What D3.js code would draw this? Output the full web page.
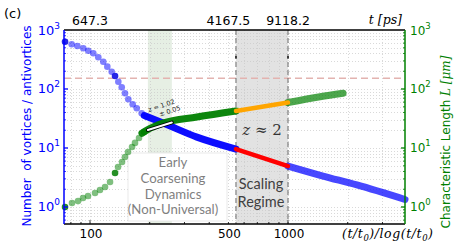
<!DOCTYPE html>
<html><head><meta charset="utf-8">
<script src="https://cdn.jsdelivr.net/npm/d3@7"></script>
<style>body{margin:0;background:#fff}svg{display:block}</style>
</head><body><svg id="c" width="457" height="248"></svg>
<script>
// ---- data ----
const blueDotX = [74.8, 80.8, 86.3, 92.5, 98.0, 103.9, 110.1, 116.7, 122.3, 128.7, 133.8, 139.0, 144.6, 150.2, 156.1, 164.3, 172.2, 182.4, 193.4];
const blueDotY = [633, 572, 536, 490, 446, 403, 345, 290, 239, 196, 166, 133, 107, 84.6, 66.9, 55.0, 47.1, 38.7, 33.9];
const blueDarkIdx = [0, 10];
const greenDotX = [74.8, 81.1, 87.0, 92.2, 97.7, 106.0, 112.3, 119.1, 126.2, 133.8, 138.5, 145.1, 150.2, 155.6, 163.0, 168.8, 176.8, 187.4];
const greenDotY = [1.00, 1.17, 1.26, 1.42, 1.54, 1.73, 1.94, 2.18, 2.65, 3.77, 4.76, 5.79, 7.04, 8.55, 10.4, 12.2, 14.8, 18.7];
const greenDarkIdx = [0, 9, 17];
const blueLineX = [188, 233.8, 346.7, 546];
const blueLineY = [35.5, 26.5, 15.3, 9.6];
const redX = [546, 1000];
const redY = [9.6, 4.95];
const blueLateX = [1000, 1503, 2229, 3898];
const blueLateY = [4.95, 3.35, 2.36, 1.34];
const greenLineX = [183, 194.2, 233.8, 346.7, 546];
const greenLineY = [17.8, 20.2, 26.5, 33.5, 42.4];
const orangeX = [546, 1000];
const orangeY = [42.4, 59.0];
const greenLateX = [1000, 1451, 1897];
const greenLateY = [59.0, 74.0, 84.6];
const fitX = [196, 259];
const fitY = [20.2, 27.0];
const earlyRegion = [196, 259];
const scalingRegion = [546, 1000];
const refLevel = 152;
const xTickVals = [100, 500, 1000];
const xTickLabels = ["100", "500", "1000"];
const topTickLabels = ["647.3", "4167.5", "9118.2"];
const yTickVals = [1, 10, 100, 1000];
const yTickExp = ["0", "1", "2", "3"];
const earlyText = ["Early", "Coarsening", "Dynamics", "(Non-Universal)"];
const scalingText = ["Scaling", "Regime"];

// ---- drawing ----
const svg = d3.select("#c");
const L = 64, R = 405, T = 30, B = 224;
const x = d3.scaleLog().domain([73.9, 3898]).range([L, R]);
const y = d3.scaleLog().domain([0.515, 1000]).range([B, T]);
const yR = y.copy();

svg.append("rect").attr("width", 457).attr("height", 248).attr("fill", "#fff");

// regions
svg.append("rect").attr("x", x(scalingRegion[0])).attr("y", T)
  .attr("width", x(scalingRegion[1]) - x(scalingRegion[0])).attr("height", B - T)
  .attr("fill", "#e2e2e2");
svg.append("rect").attr("x", x(earlyRegion[0])).attr("y", T)
  .attr("width", x(earlyRegion[1]) - x(earlyRegion[0])).attr("height", B - T)
  .attr("fill", "#e6efe4");

// grid
const minorY = [];
[0.1, 1, 10, 100].forEach(d => { for (let k = 1; k <= 9; k++) { const v = d * k; if (v > 0.515 && v < 1000) minorY.push(v); } });
const minorX = [];
[10, 100, 1000].forEach(d => { for (let k = 1; k <= 9; k++) { const v = d * k; if (v > 73.9 && v < 3898) minorX.push(v); } });
const grid = svg.append("g").attr("stroke", "#c8c8c8").attr("stroke-width", 0.7).attr("stroke-dasharray", "1,2");
grid.selectAll(".gy").data(minorY).join("line").attr("x1", L).attr("x2", R)
  .attr("y1", d => Math.round(y(d)) + 0.5).attr("y2", d => Math.round(y(d)) + 0.5);
grid.selectAll(".gx").data(minorX).join("line").attr("y1", T).attr("y2", B)
  .attr("x1", d => Math.round(x(d)) + 0.5).attr("x2", d => Math.round(x(d)) + 0.5);

// reference dashed line
svg.append("line").attr("x1", L).attr("x2", R).attr("y1", y(refLevel)).attr("y2", y(refLevel))
  .attr("stroke", "#e3b3b0").attr("stroke-width", 1.5).attr("stroke-dasharray", "7,4");

// dashed region edges
scalingRegion.forEach(v => {
  svg.append("line").attr("x1", x(v)).attr("x2", x(v)).attr("y1", T).attr("y2", B)
    .attr("stroke", "#6a6a6a").attr("stroke-width", 1).attr("stroke-dasharray", "5,3");
  svg.append("line").attr("x1", x(v)).attr("x2", x(v)).attr("y1", 56).attr("y2", 58.5)
    .attr("stroke", "#222").attr("stroke-width", 1.6);
});

// early text box
svg.append("rect").attr("x", 128).attr("y", 153).attr("width", 99).attr("height", 68)
  .attr("fill", "#fff").attr("stroke", "#e4e4e4").attr("stroke-width", 0.8);
svg.append("g").selectAll("text").data(earlyText).join("text")
  .attr("x", 173).attr("y", (d, i) => 167 + i * 15.8).attr("text-anchor", "middle")
  .attr("font-family", "Lato, 'Open Sans', sans-serif").attr("font-size", 13.2).attr("fill", "#7f7f7f")
  .text(d => d);
svg.append("g").selectAll("text").data(scalingText).join("text")
  .attr("x", 261).attr("y", (d, i) => 189 + i * 18).attr("text-anchor", "middle")
  .attr("font-family", "Lato, 'Open Sans', sans-serif").attr("font-size", 14.5).attr("fill", "#404040")
  .text(d => d);
const zt = svg.append("text").attr("x", 262).attr("y", 135).attr("text-anchor", "middle")
  .attr("font-family", "'DejaVu Serif', serif").attr("font-size", 15).attr("fill", "#333");
zt.append("tspan").attr("font-style", "italic").text("z");
zt.append("tspan").text(" ≈ 2");

// early dots
const bd = blueDotX.map((v, i) => ({ x: v, y: blueDotY[i], dark: blueDarkIdx.includes(i) }));
const gd = greenDotX.map((v, i) => ({ x: v, y: greenDotY[i], dark: greenDarkIdx.includes(i) }));
svg.append("g").selectAll("circle").data(bd).join("circle")
  .attr("cx", d => x(d.x)).attr("cy", d => y(d.y)).attr("r", 3.3)
  .attr("fill", d => d.dark ? "#1a1ae6" : "#0000ff").attr("fill-opacity", d => d.dark ? 0.95 : 0.5);
svg.append("g").selectAll("circle").data(gd).join("circle")
  .attr("cx", d => x(d.x)).attr("cy", d => yR(d.y)).attr("r", 3.3)
  .attr("fill", d => d.dark ? "#1a8a1a" : "#008000").attr("fill-opacity", d => d.dark ? 0.95 : 0.5);

// dense lines
const line = (xs, ys, sc) => d3.line().curve(d3.curveMonotoneX)(xs.map((v, i) => [x(v), sc(ys[i])]));
function path(xs, ys, sc, color, w, op) {
  svg.append("path").attr("d", line(xs, ys, sc)).attr("fill", "none").attr("stroke", color)
    .attr("stroke-width", w).attr("stroke-linecap", "round").attr("stroke-opacity", op);
}
path(blueLateX, blueLateY, y, "#0000ff", 7, 0.72);
path(greenLateX, greenLateY, yR, "#008000", 7, 0.7);
path(blueLineX, blueLineY, y, "#0000ff", 7, 0.95);
path(greenLineX, greenLineY, yR, "#008000", 7, 0.95);
path(redX, redY, y, "#ff0000", 4.5, 1);
path(orangeX, orangeY, yR, "#ffa500", 4.5, 1);

// fit line
path(fitX, fitY, yR, "#000", 3.8, 1);
path(fitX, fitY, yR, "#fff", 2, 1);
svg.append("text").attr("transform", "translate(149,112) rotate(-18)")
  .attr("font-family", "'DejaVu Sans', sans-serif").attr("font-size", 6.5).attr("fill", "#222").text("z ≈ 1.02");
svg.append("text").attr("transform", "translate(160,116.5) rotate(-18)")
  .attr("font-family", "'DejaVu Sans', sans-serif").attr("font-size", 6.5).attr("fill", "#222").text("± 0.05");

// axes lines
svg.append("line").attr("x1", L).attr("x2", R).attr("y1", T).attr("y2", T).attr("stroke", "#000").attr("stroke-width", 1.5);
svg.append("line").attr("x1", L).attr("x2", R).attr("y1", B).attr("y2", B).attr("stroke", "#000").attr("stroke-width", 1.5);
svg.append("line").attr("x1", L).attr("x2", L).attr("y1", T).attr("y2", B).attr("stroke", "#0000ff").attr("stroke-width", 1.5);
svg.append("line").attr("x1", R).attr("x2", R).attr("y1", T).attr("y2", B).attr("stroke", "#008000").attr("stroke-width", 1.5);

// y ticks (inward)
const allY = minorY.concat([1, 10, 100]);
svg.append("g").selectAll("line").data(allY).join("line")
  .attr("x1", L).attr("x2", d => L + (yTickVals.includes(d) ? 4 : 2))
  .attr("y1", d => y(d)).attr("y2", d => y(d)).attr("stroke", "#0000ff").attr("stroke-width", 0.8);
svg.append("g").selectAll("line").data(allY).join("line")
  .attr("x1", R).attr("x2", d => R - (yTickVals.includes(d) ? 4 : 2))
  .attr("y1", d => yR(d)).attr("y2", d => yR(d)).attr("stroke", "#008000").attr("stroke-width", 0.8);
svg.append("g").selectAll("line").data(minorX).join("line")
  .attr("y1", B).attr("y2", d => B - ([100, 1000].includes(d) ? 4 : 2))
  .attr("x1", d => x(d)).attr("x2", d => x(d)).attr("stroke", "#000").attr("stroke-width", 0.8);

// y tick labels
yTickVals.forEach((v, i) => {
  const t = svg.append("text").attr("x", 60).attr("y", y(v) + 4.5).attr("text-anchor", "end")
    .attr("font-family", "'DejaVu Sans', sans-serif").attr("font-size", 13).attr("fill", "#0000ff");
  t.append("tspan").text("10");
  t.append("tspan").attr("font-size", 9).attr("dy", -6).text(yTickExp[i]);
  const t2 = svg.append("text").attr("x", 410).attr("y", yR(v) + 4.5)
    .attr("font-family", "'DejaVu Sans', sans-serif").attr("font-size", 12).attr("fill", "#008000");
  t2.append("tspan").text("10");
  t2.append("tspan").attr("font-size", 8.5).attr("dy", -6).text(yTickExp[i]);
});

// x tick labels
xTickVals.forEach((v, i) => {
  svg.append("text").attr("x", x(v) + 1).attr("y", 238).attr("text-anchor", "middle")
    .attr("font-family", "'DejaVu Sans', sans-serif").attr("font-size", 12).attr("fill", "#000").text(xTickLabels[i]);
  svg.append("text").attr("x", x(v)).attr("y", 25).attr("text-anchor", "middle")
    .attr("font-family", "'DejaVu Sans', sans-serif").attr("font-size", 12.5).attr("fill", "#000").text(topTickLabels[i]);
});

// axis titles
svg.append("text").attr("x", 4).attr("y", 18).attr("font-family", "'DejaVu Sans', sans-serif")
  .attr("font-size", 13).attr("fill", "#000").text("(c)");
svg.append("text").attr("x", 402).attr("y", 24).attr("text-anchor", "end")
  .attr("font-family", "'DejaVu Serif', serif").attr("font-style", "italic").attr("font-size", 12.5)
  .attr("fill", "#000").text("t [ps]");
const xl = svg.append("text").attr("x", 342).attr("y", 238)
  .attr("font-family", "'DejaVu Serif', serif").attr("font-style", "italic").attr("font-size", 12.5)
  .attr("fill", "#000").attr("textLength", 91).attr("lengthAdjust", "spacing");
xl.append("tspan").text("(t/t");
xl.append("tspan").attr("font-size", 8.5).attr("dy", 3).text("0");
xl.append("tspan").attr("dy", -3).text(")/log(t/t");
xl.append("tspan").attr("font-size", 8.5).attr("dy", 3).text("0");
xl.append("tspan").attr("dy", -3).text(")");

svg.append("text").attr("transform", "translate(31,126) rotate(-90)").attr("text-anchor", "middle")
  .attr("font-family", "'DejaVu Sans', sans-serif").attr("font-size", 12).attr("fill", "#0000ff")
  .style("white-space", "pre").text("Number  of vortices / antivortices");
const rl = svg.append("text").attr("transform", "translate(450,142) rotate(-90)").attr("text-anchor", "middle")
  .attr("font-family", "'DejaVu Sans', sans-serif").attr("font-size", 12).attr("fill", "#008000");
rl.append("tspan").text("Characteristic Length ");
rl.append("tspan").attr("font-family", "'DejaVu Serif', serif").attr("font-style", "italic").text("L [μm]");
</script></body></html>
